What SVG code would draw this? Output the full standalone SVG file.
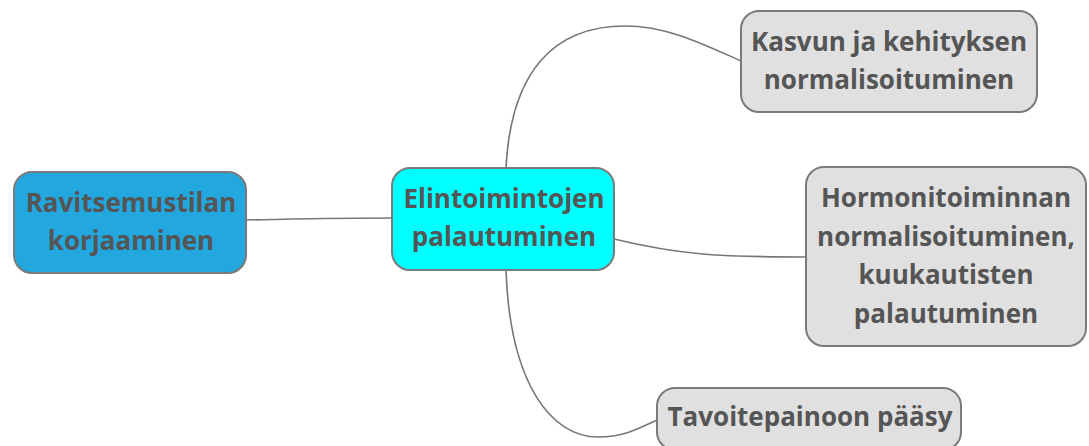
<svg xmlns="http://www.w3.org/2000/svg" width="1089" height="446" viewBox="0 0 1089 446">
  <style>
    .box { stroke: #7a7a7a; stroke-width: 2; }
    .root { fill: #22a7df; }
    .mid { fill: #00ffff; }
    .leaf { fill: #e0e0e0; }
    .lbl { font-family: "Open Sans", "Noto Sans", "DejaVu Sans", sans-serif; font-weight: bold; font-size: 26px; fill: #555555; text-anchor: middle; }
    .edge { fill: none; stroke: #777777; stroke-width: 1.6; }
  </style>

  <g id="connectors">
    <path class="edge" d="M246 220 C300 219 340 218 392 218"/>
    <path class="edge" d="M506 168 C511 70 555 26 625 26 C668 26 705 45 741 61"/>
    <path class="edge" d="M614 239 C680 255 720 257 806 257"/>
    <path class="edge" d="M506 270 C510 385 552 437 598 437 C624 437 640 428 657 420"/>
  </g>

  <g id="node-ravitsemustilan">
    <rect class="box root" x="14" y="172" width="232" height="101" rx="18"/>
    <text class="lbl" x="131" y="212">Ravitsemustilan</text>
    <text class="lbl" x="131" y="250">korjaaminen</text>
  </g>

  <g id="node-elintoimintojen">
    <rect class="box mid" x="392" y="168" width="222" height="102" rx="18"/>
    <text class="lbl" x="504" y="208">Elintoimintojen</text>
    <text class="lbl" x="504" y="246">palautuminen</text>
  </g>

  <g id="node-kasvun">
    <rect class="box leaf" x="741" y="11" width="296" height="101" rx="18"/>
    <text class="lbl" x="889" y="51">Kasvun ja kehityksen</text>
    <text class="lbl" x="889" y="89">normalisoituminen</text>
  </g>

  <g id="node-hormonitoiminnan">
    <rect class="box leaf" x="806" y="167" width="280" height="179" rx="18"/>
    <text class="lbl" x="946" y="207">Hormonitoiminnan</text>
    <text class="lbl" x="946" y="245.5">normalisoituminen,</text>
    <text class="lbl" x="946" y="284">kuukautisten</text>
    <text class="lbl" x="946" y="322.5">palautuminen</text>
  </g>

  <g id="node-tavoitepainoon">
    <rect class="box leaf" x="657" y="388" width="304" height="62" rx="18"/>
    <text class="lbl" x="810" y="426">Tavoitepainoon pääsy</text>
  </g>
</svg>
